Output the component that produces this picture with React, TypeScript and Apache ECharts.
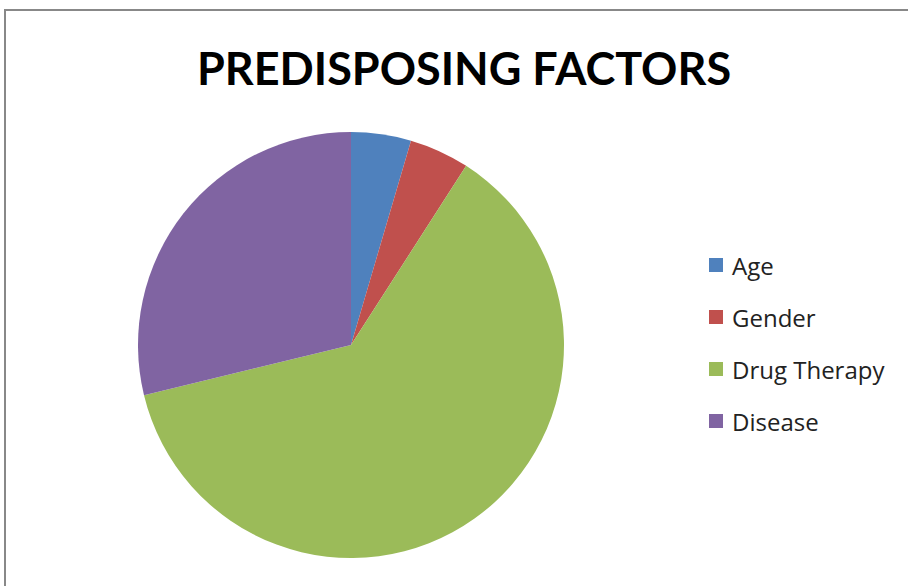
import React, { useEffect, useRef } from "react";
import * as echarts from "echarts";

const categories = ["Age", "Gender", "Drug Therapy", "Disease"];
const values = [3, 3, 41, 19];
const colors = ["#4F81BD", "#C0504D", "#9BBB59", "#8064A2"];
const titleText = "PREDISPOSING FACTORS";

export default function App() {
  const ref = useRef<HTMLDivElement>(null);
  useEffect(() => {
    if (!ref.current) return;
    const chart = echarts.init(ref.current, null, { renderer: "svg" });
    chart.setOption({
      animation: false,
      backgroundColor: "#ffffff",
      color: colors,
      title: {
        text: titleText,
        left: 459,
        textAlign: "center",
        top: 40,
        textStyle: {
          fontFamily: "Lato",
          fontWeight: "bold",
          fontSize: 45,
          color: "#000",
        },
      },
      legend: {
        orient: "vertical",
        left: 704,
        top: 248,
        icon: "rect",
        itemWidth: 14,
        itemHeight: 14,
        itemGap: 28,
        textStyle: {
          fontFamily: "Open Sans",
          fontSize: 24,
          color: "#222",
          lineHeight: 24,
          padding: [0, 0, 0, 4],
        },
        data: categories,
      },
      graphic: [
        {
          type: "rect",
          shape: { x: 5, y: 10, width: 1000, height: 1000 },
          style: { fill: "none", stroke: "#888", lineWidth: 2 },
          silent: true,
        },
      ],
      series: [
        {
          type: "pie",
          center: [351, 345],
          radius: 213,
          startAngle: 90,
          clockwise: true,
          label: { show: false },
          labelLine: { show: false },
          itemStyle: { borderWidth: 0 },
          emphasis: { disabled: true },
          data: categories.map((c, i) => ({ name: c, value: values[i] })),
        },
      ],
    });
    return () => chart.dispose();
  }, []);
  return (
    <div
      ref={ref}
      style={{ position: "fixed", left: 0, top: 0, width: 908, height: 586 }}
    />
  );
}
